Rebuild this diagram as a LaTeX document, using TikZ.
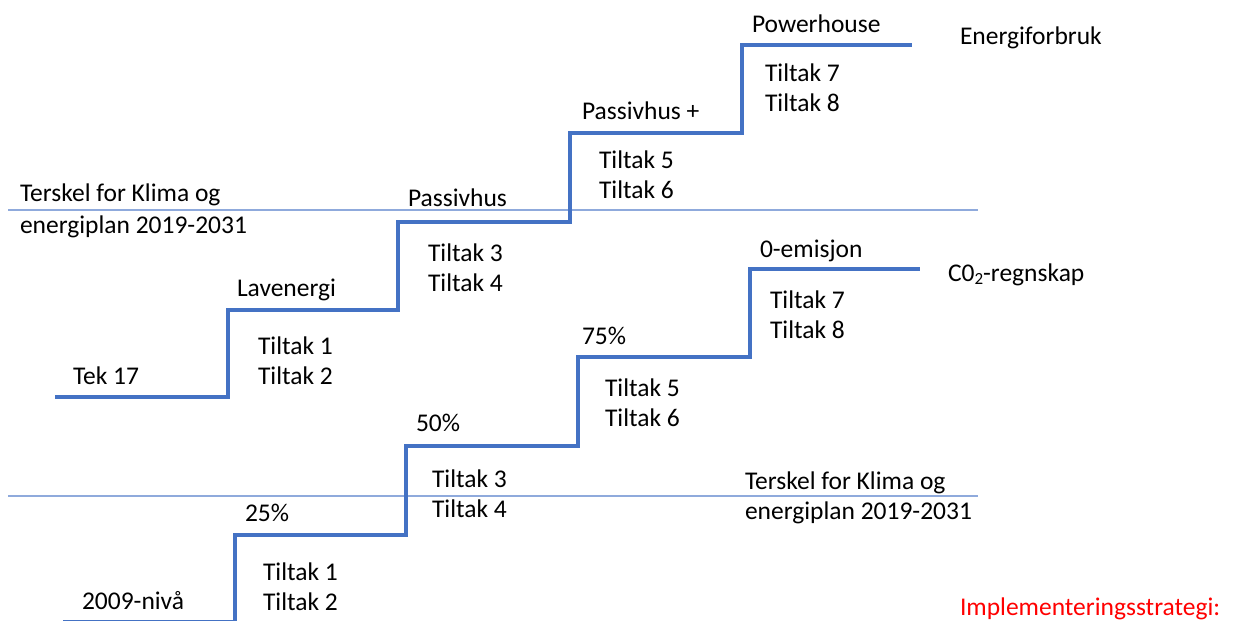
\documentclass[tikz,border=0pt]{standalone}
\usepackage{fontspec}
\setmainfont{Carlito}
\definecolor{stairblue}{HTML}{4472C4}
\definecolor{threshblue}{HTML}{8FAADC}
\definecolor{redtxt}{HTML}{FF0000}
\newcommand{\lblfont}{\fontsize{25.5}{30}\selectfont}
\newcommand{\lowsub}[1]{\raisebox{-0.3ex}{\fontsize{17}{20}\selectfont #1}}
\begin{document}
\begin{tikzpicture}[x=1pt,y=-1pt,
  lbl/.style={inner sep=0pt, outer sep=0pt, anchor=base west, font=\lblfont, text=black},
  stairline/.style={draw=stairblue, line width=4pt, line join=miter},
  threshline/.style={draw=threshblue, line width=1.2pt}]
\useasboundingbox (0,0) rectangle (1235,621);
\clip (0,0) rectangle (1235,621);
\fill[white] (0,0) rectangle (1235,621);
% threshold lines
\coordinate (t1a) at (8,210);  \coordinate (t1b) at (978,210);
\coordinate (t2a) at (8,496);  \coordinate (t2b) at (978,496);
\draw[threshline] (t1a) -- (t1b);
\draw[threshline] (t2a) -- (t2b);
% upper staircase
\coordinate (e0) at (55,397);  \coordinate (e1) at (228,397);
\coordinate (e2) at (228,310); \coordinate (e3) at (398,310);
\coordinate (e4) at (398,222); \coordinate (e5) at (570,222);
\coordinate (e6) at (570,133); \coordinate (e7) at (742,133);
\coordinate (e8) at (742,45);  \coordinate (e9) at (912,45);
\draw[stairline] (e0) -- (e1) -- (e2) -- (e3) -- (e4) -- (e5) -- (e6) -- (e7) -- (e8) -- (e9);
% lower staircase
\coordinate (c0) at (63,622);  \coordinate (c1) at (235,622);
\coordinate (c2) at (235,535); \coordinate (c3) at (406,535);
\coordinate (c4) at (406,446); \coordinate (c5) at (578,446);
\coordinate (c6) at (578,357); \coordinate (c7) at (750,357);
\coordinate (c8) at (750,269); \coordinate (c9) at (920,269);
\draw[stairline] (c0) -- (c1) -- (c2) -- (c3) -- (c4) -- (c5) -- (c6) -- (c7) -- (c8) -- (c9);
% upper labels
\node[lbl] (tk1) at (20,201) {Terskel for Klima og};
\node[lbl] (tk2) at (20,233) {energiplan 2019-2031};
\node[lbl] (tek) at (73,384) {Tek 17};
\node[lbl] (lav) at (237,296) {Lavenergi};
\node[lbl] (u1) at (258,354) {Tiltak 1};
\node[lbl] (u2) at (258,384) {Tiltak 2};
\node[lbl] (pas) at (408,206) {Passivhus};
\node[lbl] (u3) at (428,261) {Tiltak 3};
\node[lbl] (u4) at (428,291) {Tiltak 4};
\node[lbl] (pasp) at (582,119) {Passivhus +};
\node[lbl] (u5) at (599,168) {Tiltak 5};
\node[lbl] (u6) at (599,198) {Tiltak 6};
\node[lbl] (pow) at (752,32) {Powerhouse};
\node[lbl] (u7) at (765,81) {Tiltak 7};
\node[lbl] (u8) at (765,111) {Tiltak 8};
\node[lbl] (enf) at (960,45) {Energiforbruk};
% lower labels
\node[lbl] (zero) at (760,257) {0-emisjon};
\node[lbl] (co2) at (948,281) {C0\lowsub{2}-regnskap};
\node[lbl] (l7) at (770,308) {Tiltak 7};
\node[lbl] (l8) at (770,338) {Tiltak 8};
\node[lbl] (p75) at (582,344) {75\%};
\node[lbl] (l5) at (605,396) {Tiltak 5};
\node[lbl] (l6) at (605,426) {Tiltak 6};
\node[lbl] (p50) at (416,431) {50\%};
\node[lbl] (l3) at (432,487) {Tiltak 3};
\node[lbl] (l4) at (432,517) {Tiltak 4};
\node[lbl] (tb1) at (745,489) {Terskel for Klima og};
\node[lbl] (tb2) at (745,519) {energiplan 2019-2031};
\node[lbl] (p25) at (245,521) {25\%};
\node[lbl] (l1) at (263,580) {Tiltak 1};
\node[lbl] (l2) at (263,610) {Tiltak 2};
\node[lbl] (niv) at (82,609) {2009-nivå};
\node[lbl, text=redtxt] (impl) at (960,615) {Implementeringsstrategi:};
\end{tikzpicture}
\end{document}
